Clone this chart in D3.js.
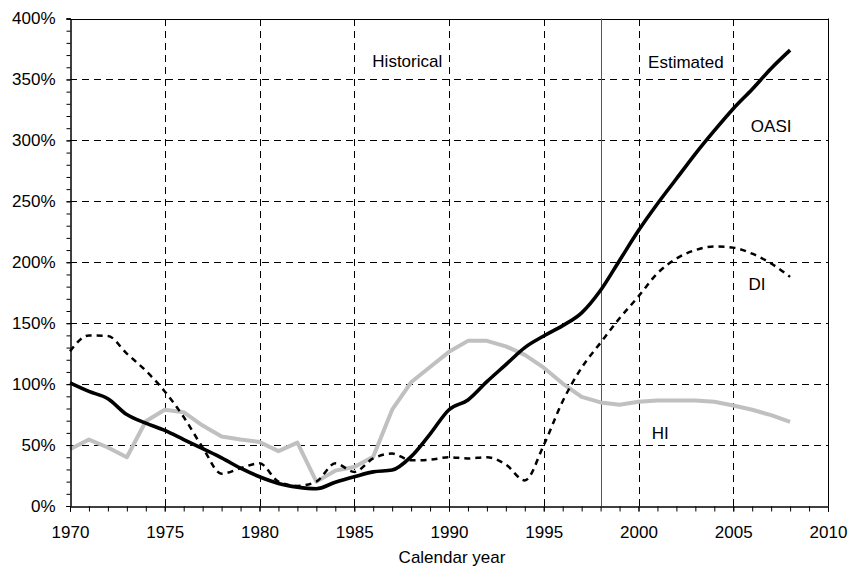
<!DOCTYPE html>
<html>
<head>
<meta charset="utf-8">
<script src="https://cdn.jsdelivr.net/npm/d3@7/dist/d3.min.js"></script>
<style>
  html, body { margin: 0; padding: 0; background: #fff; }
  svg text { font-family: "Liberation Sans", Arial, sans-serif; fill: #000; }
</style>
</head>
<body>
<svg id="chart" width="851" height="566"></svg>
<script>
// ---- data ----
const years = [1970,1971,1972,1973,1974,1975,1976,1977,1978,1979,
               1980,1981,1982,1983,1984,1985,1986,1987,1988,1989,
               1990,1991,1992,1993,1994,1995,1996,1997,1998,1999,
               2000,2001,2002,2003,2004,2005,2006,2007,2008];
const oasi = [101, 94, 88, 75, 68, 62, 54.5, 47, 39.5, 31,
              24, 18.5, 15.5, 14.2, 19.5, 24, 28, 29.5, 40.5, 59,
              79, 87, 102, 116, 130, 139.5, 148, 158.5, 177, 201.5,
              226, 248, 268.5, 289, 308, 326, 342, 359, 374];
const di   = [127, 140, 139.5, 125, 111, 94, 73, 48, 26.5, 31,
              35, 20, 16.5, 20, 35, 28, 39, 43, 37.5, 38,
              40, 39, 40, 34, 21, 50, 86, 113.5, 134, 154,
              172, 191, 203, 210, 213, 212, 207, 199, 188];
const hi   = [46.5, 54.5, 48, 40, 69.5, 79, 77, 66, 57, 54.5,
              52.5, 45, 52, 20, 29, 32, 40.5, 79, 101.5, 114,
              126.5, 135.5, 135.5, 131, 124, 113.5, 100.5, 89.5, 85, 83,
              85.5, 86.5, 86.5, 86.5, 85.5, 82.5, 79, 74.5, 69];
const xTicks = [1970,1975,1980,1985,1990,1995,2000,2005,2010];
const yTicks = [0,50,100,150,200,250,300,350,400];
const xMinorTicks = [1970,1971,1972,1973,1974,1975,1976,1977,1978,1979,1980,1981,1982,1983,1984,1985,1986,1987,1988,1989,1990,1991,1992,1993,1994,1995,1996,1997,1998,1999,2000,2001,2002,2003,2004,2005,2006,2007,2008,2009,2010];
const yMinorTicks = [0,10,20,30,40,50,60,70,80,90,100,110,120,130,140,150,160,170,180,190,200,210,220,230,240,250,260,270,280,290,300,310,320,330,340,350,360,370,380,390,400];
const splitYear = 1998;
const labels = [
  {text: "Historical", x: 1987.8, y: 360},
  {text: "Estimated",  x: 2002.5, y: 359.7},
  {text: "OASI",       x: 2007.0, y: 307},
  {text: "DI",         x: 2006.25, y: 177.4},
  {text: "HI",         x: 2001.15, y: 55}
];

// ---- layout ----
const svg = d3.select("#chart");
const m = {left: 70, right: 23, top: 18.5, bottom: 60};
const W = 851, H = 566;
const x = d3.scaleLinear().domain([1970, 2010]).range([m.left, W - m.right]);
const y = d3.scaleLinear().domain([0, 400]).range([H - m.bottom, m.top]);

const g = svg.append("g");

// gridlines
g.selectAll("line.hg").data(yTicks.filter(v => v > 0 && v < 400)).enter().append("line")
  .attr("x1", x(1970)).attr("x2", x(2010))
  .attr("y1", d => Math.round(y(d)) + 0.5).attr("y2", d => Math.round(y(d)) + 0.5)
  .attr("stroke", "#000").attr("stroke-width", 1).attr("stroke-dasharray", "7,5");
g.selectAll("line.vg").data(xTicks.filter(v => v > 1970 && v < 2010)).enter().append("line")
  .attr("y1", y(0)).attr("y2", y(400))
  .attr("x1", d => Math.round(x(d)) + 0.5).attr("x2", d => Math.round(x(d)) + 0.5)
  .attr("stroke", "#000").attr("stroke-width", 1).attr("stroke-dasharray", "7,5");

// frame top & right
g.append("line").attr("x1", x(1970)).attr("x2", x(2010))
  .attr("y1", Math.round(y(400)) + 0.5).attr("y2", Math.round(y(400)) + 0.5)
  .attr("stroke", "#000");
g.append("line").attr("x1", Math.round(x(2010)) + 0.5).attr("x2", Math.round(x(2010)) + 0.5)
  .attr("y1", y(0)).attr("y2", y(400)).attr("stroke", "#000");

// split line
g.append("line").attr("x1", Math.round(x(splitYear)) + 0.5).attr("x2", Math.round(x(splitYear)) + 0.5)
  .attr("y1", y(0)).attr("y2", y(400)).attr("stroke", "#555").attr("stroke-width", 1);

// series
const lineLin = d3.line().x((d, i) => x(years[i])).y(d => y(d)).curve(d3.curveLinear);
const lineSmooth = d3.line().x((d, i) => x(years[i])).y(d => y(d)).curve(d3.curveMonotoneX);
g.append("path").datum(hi)
  .attr("d", lineLin)
  .attr("fill", "none").attr("stroke", "#c0c0c0").attr("stroke-width", 4)
  .attr("stroke-linejoin", "round");
g.append("path").datum(di)
  .attr("d", lineSmooth)
  .attr("fill", "none").attr("stroke", "#000").attr("stroke-width", 2.5)
  .attr("stroke-dasharray", "6,5");
g.append("path").datum(oasi)
  .attr("d", lineSmooth)
  .attr("fill", "none").attr("stroke", "#000").attr("stroke-width", 3.6)
  .attr("stroke-linejoin", "round");

// axes
const xAxisMinor = d3.axisBottom(x).tickValues(xMinorTicks).tickSize(5).tickFormat("");
const xAxis = d3.axisBottom(x).tickValues(xTicks).tickSize(5).tickPadding(14).tickFormat(d3.format("d"));
const yAxisMinor = d3.axisLeft(y).tickValues(yMinorTicks).tickSize(4).tickFormat("");
const yAxis = d3.axisLeft(y).tickValues(yTicks).tickSize(4).tickPadding(11).tickFormat(d => d + "%");

function styleAxis(sel) {
  sel.select(".domain").attr("stroke", "#000").attr("stroke-width", 1);
  sel.selectAll(".tick line").attr("stroke", "#000");
  sel.selectAll(".tick text").attr("font-size", "17px").attr("fill", "#000")
     .attr("font-family", "'Liberation Sans', Arial, sans-serif");
}
g.append("g").attr("transform", `translate(0,${Math.round(y(0)) + 0.5})`).call(xAxisMinor).call(styleAxis);
g.append("g").attr("transform", `translate(0,${Math.round(y(0)) + 0.5})`).call(xAxis).call(styleAxis);
g.append("g").attr("transform", `translate(${Math.round(x(1970)) + 0.5},0)`).call(yAxisMinor).call(styleAxis);
g.append("g").attr("transform", `translate(${Math.round(x(1970)) + 0.5},0)`).call(yAxis).call(styleAxis);

// axis title
svg.append("text").attr("x", 452).attr("y", 563).attr("text-anchor", "middle")
  .attr("font-size", "17px").text("Calendar year");

// annotations
svg.selectAll("text.lab").data(labels).enter().append("text")
  .attr("class", "lab")
  .attr("x", d => x(d.x)).attr("y", d => y(d.y))
  .attr("text-anchor", "middle").attr("font-size", "17px")
  .text(d => d.text);
</script>
</body>
</html>
